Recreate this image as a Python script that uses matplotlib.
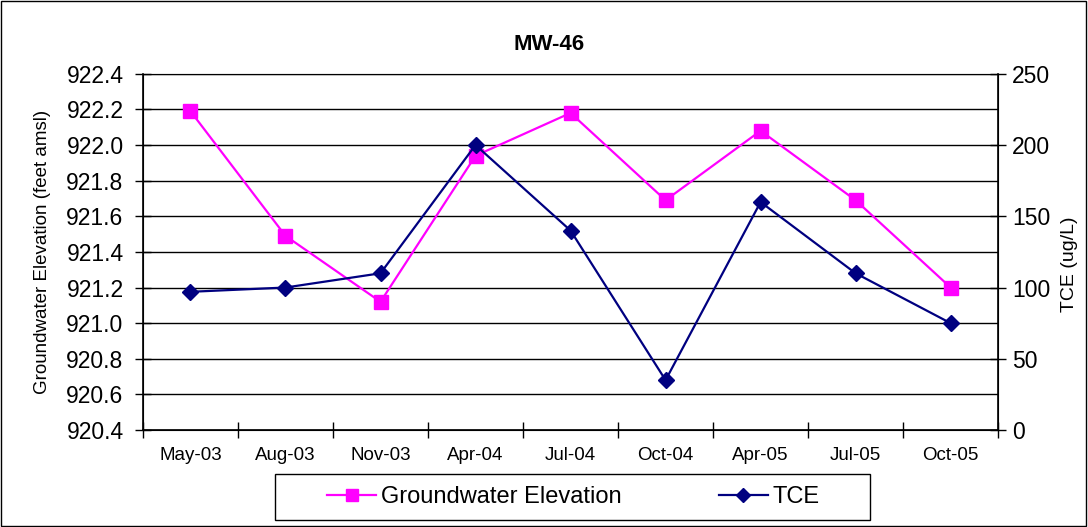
import matplotlib
matplotlib.use("Agg")
import matplotlib.pyplot as plt
from matplotlib.patches import Rectangle

plt.rcParams['font.family'] = ['Liberation Sans', 'DejaVu Sans']

dates = ['May-03', 'Aug-03', 'Nov-03', 'Apr-04', 'Jul-04', 'Oct-04', 'Apr-05', 'Jul-05', 'Oct-05']
gw_elev = [922.19, 921.49, 921.12, 921.94, 922.18, 921.69, 922.08, 921.69, 921.20]
tce = [97, 100, 110, 200, 140, 35, 160, 110, 75]

fig = plt.figure(figsize=(10.88, 5.27), dpi=100)
# outer chart border
fig.patches.append(Rectangle((0.001, 0.002), 0.997, 0.996, transform=fig.transFigure,
                             fill=False, edgecolor='black', linewidth=1))
ax = fig.add_axes([0.1314, 0.184, 0.786, 0.676])
x = list(range(len(dates)))

ax.set_ylim(920.4, 922.4)
ax.set_yticks([920.4 + 0.2 * i for i in range(11)])
ax.set_yticklabels(['%.1f' % (920.4 + 0.2 * i) for i in range(11)], fontsize=16.5)
ax.set_xlim(-0.5, len(dates) - 0.5)
ax.set_xticks(x)
ax.set_xticklabels(dates, fontsize=13.5)
ax.tick_params(axis='x', length=0, pad=12)
ax.set_xticks([i - 0.5 for i in range(len(dates) + 1)], minor=True)
ax.tick_params(axis='x', which='minor', direction='inout', length=12, width=1)
ax.tick_params(axis='y', direction='inout', length=12, width=1, pad=8)
ax.grid(axis='y', color='black', linewidth=1)
ax.set_axisbelow(True)
ax.spines['top'].set_color('gray')
for s in ['left', 'bottom', 'right']:
    ax.spines[s].set_linewidth(1.2)
ax.set_ylabel('Groundwater Elevation (feet amsl)', fontsize=13.5)
ax.yaxis.set_label_coords(-0.107, 0.5)

l1, = ax.plot(x, gw_elev, color='#FF00FF', marker='s', markersize=10, linewidth=1.6,
              label='Groundwater Elevation', zorder=3)

ax2 = ax.twinx()
ax2.set_ylim(0, 250)
ax2.set_yticks(range(0, 251, 50))
ax2.tick_params(axis='y', direction='inout', length=12, width=1, labelsize=16.5, pad=4)
ax2.set_ylabel('TCE (ug/L)', fontsize=14)
ax2.yaxis.set_label_coords(1.074, 0.464)

l2, = ax2.plot(x, tce, color='#000080', marker='D', markersize=8.5, linewidth=1.6,
               label='TCE', zorder=3)

fig.text(0.505, 0.915, 'MW-46', fontsize=16, fontweight='bold', ha='center', va='center')

# legend box
fig.patches.append(Rectangle((275 / 1088, 7 / 527), 595 / 1088, 46 / 527,
                             transform=fig.transFigure, fill=False,
                             edgecolor='black', linewidth=1))
fig.legend(handles=[l1, l2], loc='center', bbox_to_anchor=(0.527, 0.057), ncol=2,
           fontsize=17, frameon=False, columnspacing=4.1, handlelength=2.1,
           handletextpad=0.2, markerscale=0.85)

fig.savefig('out.png', dpi=100)
